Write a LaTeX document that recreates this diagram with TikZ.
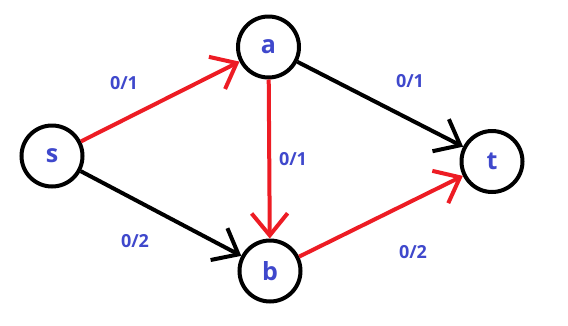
\documentclass[tikz,border=0pt]{standalone}
\usepackage{fontspec}
\setmainfont{Open Sans}
\usetikzlibrary{arrows.meta}
\definecolor{pred}{HTML}{ED1C24}
\definecolor{pblue}{HTML}{3F48CC}
\begin{document}
\begin{tikzpicture}[x=1pt,y=-1pt,
  vert/.style={circle,draw=black,line width=4pt,minimum size=61pt,inner sep=0pt,
    font=\fontsize{25}{27}\selectfont\bfseries,text=pblue},
  edgeline/.style={line width=4pt,-{Straight Barb[length=22pt,width=36pt,line width=4pt]}},
  redge/.style={edgeline,draw=pred},
  bedge/.style={edgeline,draw=black},
  lab/.style={font=\fontsize{18}{20}\selectfont\bfseries,text=pblue,inner sep=0pt}]
\useasboundingbox (0,0) rectangle (568,325);
\node[vert] (s) at (52,156) {s};
\node[vert] (a) at (268.5,47) {a};
\node[vert] (b) at (270,271) {b};
\node[vert] (t) at (492,161.5) {t};
\draw[redge] (s) -- (a);
\draw[redge] (a) -- (b);
\draw[redge] (b) -- (t);
\draw[bedge] (a) -- (t);
\draw[bedge] (s) -- (b);
\node[lab] (l1) at (124,83) {0/1};
\node[lab] (l2) at (135,241) {0/2};
\node[lab] (l3) at (293,159) {0/1};
\node[lab] (l4) at (410,81) {0/1};
\node[lab] (l5) at (413,252) {0/2};
\end{tikzpicture}
\end{document}
